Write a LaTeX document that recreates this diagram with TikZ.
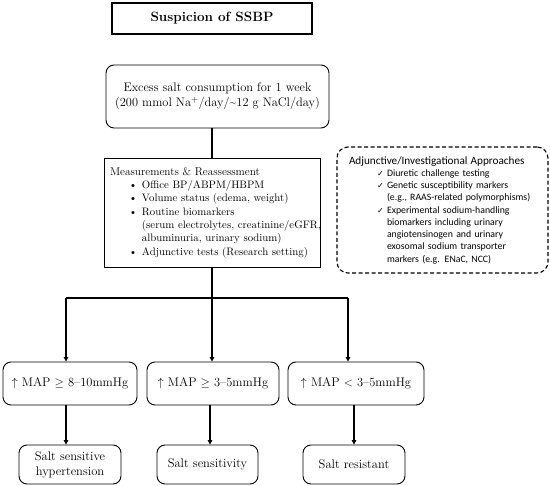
\documentclass[tikz,border=0pt]{standalone}
\usepackage{fontspec}
\newfontfamily\carlito{Carlito}
\newfontfamily\dejavu{DejaVu Sans}
\usetikzlibrary{arrows.meta}
\newcommand\mbul{\hspace*{19pt}\makebox[13pt][l]{\textbullet}}
\newcommand\mcont{\hspace*{32pt}}
\newcommand\achk{\hspace*{28pt}\makebox[10pt][l]{{\dejavu\fontsize{8}{8}\selectfont ✓}}}
\newcommand\acont{\hspace*{38pt}}
\begin{document}
\begin{tikzpicture}[x=1pt,y=-1pt,
  box/.style={draw, line width=0.9pt, inner sep=0pt, align=center},
  rbox/.style={box, rounded corners=8pt},
  conn/.style={line width=1.3pt},
  arr/.style={conn, -{Triangle[length=4.5pt,width=4.5pt]}},
  maptext/.style={font=\fontsize{12.5}{15}\selectfont},
  restext/.style={font=\fontsize{12.5}{15}\selectfont},
]
\useasboundingbox (0,0) rectangle (550,486);
\node[draw, line width=2.2pt, inner sep=0pt, minimum width=200pt, minimum height=31pt,
  font=\fontsize{13.5}{15}\selectfont\bfseries] (title) at (212,18.5) {Suspicion of SSBP};
\node[rbox, minimum width=223pt, minimum height=63pt, font=\fontsize{12.4}{15}\selectfont]
  (excess) at (217.5,96.5) {Excess salt consumption for 1 week\\(200 mmol Na\textsuperscript{+}/day/\textasciitilde12 g NaCl/day)};
\node[box, text width=204pt, align=left, minimum width=216pt, minimum height=109pt,
  font=\fontsize{10.8}{13.3}\selectfont] (meas) at (212,212.5)
  {\mbox{\fontsize{11.3}{13.3}\selectfont Measurements \& Reassessment}\\
   \mbox{\mbul Office BP/ABPM/HBPM}\\
   \mbox{\mbul Volume status (edema, weight)}\\
   \mbox{\mbul Routine biomarkers}\\
   \mbox{\mcont (serum electrolytes, creatinine/eGFR,}\\
   \mbox{\mcont albuminuria, urinary sodium)}\\
   \mbox{\mbul Adjunctive tests (Research setting)}};
\node[draw, line width=1.1pt, dash pattern=on 4pt off 2.5pt, rounded corners=11pt,
  inner xsep=12pt, inner ysep=0pt, text width=187pt, align=left, minimum height=126pt,
  font=\carlito\fontsize{9.8}{12.25}\selectfont] (adj) at (442.5,210)
  {\mbox{\fontsize{11.2}{12.25}\selectfont Adjunctive/Investigational Approaches}\\
   \mbox{\achk Diuretic challenge testing}\\
   \mbox{\achk Genetic susceptibility markers}\\
   \mbox{\acont (e.g., RAAS-related polymorphisms)}\\
   \mbox{\achk Experimental sodium-handling}\\
   \mbox{\acont biomarkers including urinary}\\
   \mbox{\acont angiotensinogen and urinary}\\
   \mbox{\acont exosomal sodium transporter}\\
   \mbox{\acont markers (e.g. ENaC, NCC)}};
\node[rbox, maptext, minimum width=134pt, minimum height=43pt] (map1) at (70,383.5)
  {$\uparrow$ MAP $\geq$ 8--10mmHg};
\node[rbox, maptext, minimum width=132pt, minimum height=43pt] (map2) at (213,383.5)
  {$\uparrow$ MAP $\geq$ 3--5mmHg};
\node[rbox, maptext, minimum width=136pt, minimum height=43pt] (map3) at (356,383.5)
  {$\uparrow$ MAP $<$ 3--5mmHg};
\node[rbox, restext, minimum width=102pt, minimum height=39pt] (res1) at (70,464.5)
  {Salt sensitive\\hypertension};
\node[rbox, restext, minimum width=101pt, minimum height=39pt] (res2) at (207.5,464.5)
  {Salt sensitivity};
\node[rbox, restext, minimum width=102pt, minimum height=39pt] (res3) at (354,464.5)
  {Salt resistant};
% connectors
\coordinate (bm) at (212,298);
\coordinate (bl) at (66,298);
\coordinate (br) at (348,298);
\draw[conn] (meas.north |- excess.south) -- (meas.north);
\draw[conn] (meas.south) -- (bm);
\draw[conn] (bl) -- (br);
\draw[arr] (bl) -- (bl |- map1.north);
\draw[arr] (bm) -- (bm |- map2.north);
\draw[arr] (br) -- (br |- map3.north);
\coordinate (d1) at (66,0);
\coordinate (d2) at (210,0);
\coordinate (d3) at (354,0);
\draw[arr] (d1 |- map1.south) -- (d1 |- res1.north);
\draw[arr] (d2 |- map2.south) -- (d2 |- res2.north);
\draw[arr] (d3 |- map3.south) -- (d3 |- res3.north);
\end{tikzpicture}
\end{document}
